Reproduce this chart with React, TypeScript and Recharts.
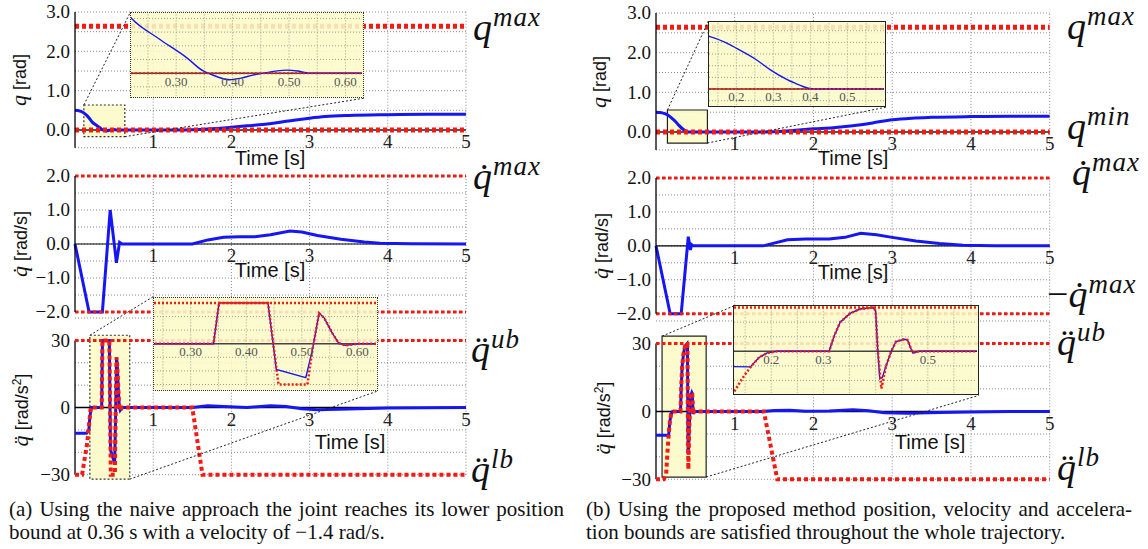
import React from "react";
import {
  CartesianGrid,
  Line,
  LineChart,
  ReferenceArea,
  ReferenceDot,
  ReferenceLine,
  XAxis,
  YAxis,
} from "recharts";

const SERIF = "'Liberation Serif', 'Times New Roman', serif";
const SANS = "'Liberation Sans', Arial, sans-serif";
const BLUE = "#1616f2";
const RED = "#f41a12";
const GRID = "#8a8a8a";
const YELLOW = "rgba(251, 251, 200, 0.88)";

// axes
const TIME_TICKS = [1, 2, 3, 4, 5];
const Q_TICKS = [-0.45, 0, 0.5, 1, 1.5, 2, 2.5, 3];
const Q_LABELS = [0, 1, 2, 3];
const QD_TICKS = [-2, -1.5, -1, -0.5, 0, 0.5, 1, 1.5, 2];
const QD_LABELS = [-2, -1, 0, 1, 2];
const QDD_TICKS = [-30, -20, -10, 0, 10, 20, 30];
const QDD_LABELS = [-30, 0, 30];

// joint bounds
const Q_MAX = 2.64;
const Q_MIN = 0;
const QD_MAX = 2;
const QDD_UB = 30;

// (a) naive approach
const A_Q_T = [0, 0.05, 0.1, 0.15, 0.19, 0.221, 0.27, 0.319, 0.348, 0.357, 0.375, 0.395, 0.415, 0.436, 0.46, 0.495, 0.515, 0.535, 0.6, 1.0, 1.4, 1.6, 1.8, 2.0, 2.2, 2.4, 2.6, 2.8, 3.0, 3.2, 3.5, 4.0, 4.5, 5.0];
const A_Q = [0.5, 0.49, 0.45, 0.37, 0.28, 0.2, 0.125, 0.056, 0.008, 0, -0.015, -0.024, -0.018, -0.007, 0.002, 0.011, 0.008, 0, 0, 0, 0, 0.01, 0.035, 0.07, 0.105, 0.14, 0.19, 0.25, 0.3, 0.34, 0.37, 0.39, 0.4, 0.4];
const A_QD_T = [0, 0.18, 0.35, 0.45, 0.53, 0.57, 0.6, 1.5, 1.7, 1.9, 2.1, 2.3, 2.5, 2.75, 2.9, 3.1, 3.4, 3.7, 3.9, 4.3, 5];
const A_QD = [0, -2, -2, 1.0, -0.55, 0.05, 0, 0, 0.12, 0.2, 0.21, 0.21, 0.27, 0.38, 0.35, 0.25, 0.14, 0.06, 0.02, 0.005, 0];
const A_QDD_T = [0, 0.13, 0.147, 0.177, 0.19, 0.21, 0.341, 0.351, 0.439, 0.454, 0.507, 0.519, 0.531, 0.54, 0.555, 0.566, 0.578, 0.602, 1.5, 1.7, 1.9, 2.2, 2.5, 2.7, 2.9, 3.1, 3.5, 4.0, 5];
const A_QDD = [-11.5, -11.5, -11.5, -10, -4, 0, 0, 30, 30, -19, -25, -4.3, 22.4, 19, 7.6, 0.5, -1.2, 0, 0, 0.8, 0.5, 0, 0.8, 0.5, -0.5, -1, -0.6, -0.2, 0];
const A_LB_T = [0, 0.09, 0.155, 0.19, 0.2, 0.341, 0.351, 0.439, 0.458, 0.51, 0.519, 0.531, 0.54, 0.555, 0.566, 0.578, 0.602, 1.5, 1.63, 5];
const A_LB = [-30, -30, -16, -4, 0, 0, 30, 30, -30, -30, -4.3, 22.4, 19, 7.6, 0.5, -1.2, 0, 0, -30, -30];

// (b) proposed method
const B_Q_T = [0, 0.05, 0.1, 0.129, 0.17, 0.202, 0.25, 0.291, 0.336, 0.36, 0.38, 0.398, 0.43, 0.6, 1.3, 1.5, 1.7, 2.0, 2.25, 2.5, 2.75, 3.0, 3.25, 3.5, 4.0, 4.5, 5.0];
const B_Q = [0.5, 0.49, 0.47, 0.45, 0.4, 0.347, 0.26, 0.167, 0.083, 0.048, 0.022, 0.005, 0, 0, 0, 0.01, 0.035, 0.08, 0.11, 0.16, 0.23, 0.31, 0.35, 0.37, 0.39, 0.4, 0.4];
const B_QD_T = [0, 0.18, 0.32, 0.41, 0.437, 0.45, 0.47, 1.36, 1.5, 1.67, 1.9, 2.2, 2.4, 2.6, 2.8, 3.0, 3.3, 3.6, 3.9, 4.3, 5];
const B_QD = [0, -2, -2, 0.27, -0.12, 0.04, 0, 0, 0.08, 0.18, 0.2, 0.2, 0.25, 0.37, 0.33, 0.25, 0.14, 0.07, 0.02, 0.005, 0];
const B_QDD_T = [0, 0.129, 0.16, 0.176, 0.192, 0.211, 0.311, 0.32, 0.332, 0.351, 0.37, 0.395, 0.4, 0.404, 0.408, 0.413, 0.42, 0.43, 0.439, 0.455, 0.461, 0.471, 0.484, 1.35, 1.5, 1.7, 1.9, 2.2, 2.5, 2.7, 2.9, 3.2, 3.6, 4.0, 4.5, 5];
const B_QDD = [-10.5, -10.5, -10.7, -4.4, -1.1, 0, 0, 10, 20, 26, 29, 30, 27.8, 1, -18.9, -17.8, -10, 0, 6.7, 8.3, 7.8, -1.1, 0, 0, 0.4, 0.5, 0.1, 0.2, 0.7, 0.3, -0.6, -0.8, -0.5, -0.2, 0, 0];
const B_LB_T = [0, 0.1, 0.129, 0.148, 0.16, 0.176, 0.192, 0.211, 0.311, 0.32, 0.332, 0.351, 0.37, 0.395, 0.4, 0.404, 0.411, 0.42, 0.43, 0.439, 0.455, 0.461, 0.471, 0.484, 1.37, 1.54, 5];
const B_LB = [-30, -30, -27.7, -16.7, -11, -4.4, -1.1, 0, 0, 10, 20, 26, 29, 30, 27.8, 1, -25.6, -10, 0, 6.7, 8.3, 7.8, -1.1, 0, 0, -30, -30];

// inset windows (time, value) and their tick labels
const A_QZOOM_T = [0.22, 0.63];
const A_QZOOM_V = [-0.085, 0.22];
const A_QDDZOOM_T = [0.234, 0.634];
const A_QDDZOOM_V = [-33.6, 33.6];
const B_QZOOM_T = [0.126, 0.6];
const B_QZOOM_V = [-0.14, 0.575];
const B_QDDZOOM_T = [0.1286, 0.595];
const B_QDDZOOM_V = [-28.9, 31.1];
const A_ZOOM_LABELS = [0.3, 0.4, 0.5, 0.6];
const B_QZOOM_LABELS = [0.2, 0.3, 0.4, 0.5];
const B_QDDZOOM_LABELS = [0.2, 0.3, 0.5];

const series = (ts: number[], vs: number[]) => ts.map((t, i) => ({ t, v: vs[i] }));
const fmtNum = (v: number, d: number) => (v < 0 ? "\u2212" : "") + Math.abs(v).toFixed(d);
const range = (a: number, b: number, s: number) => {
  const out: number[] = [];
  for (let x = a; x <= b + 1e-9; x += s) out.push(Math.round(x * 1000) / 1000);
  return out;
};

// tick text drawn with a css font so the serif face is surely used
const tickText = (text: string, x: number, y: number, size: number, fill: string, anchor: "end" | "middle", dy: string) => (
  <text x={x} y={y} dy={dy} textAnchor={anchor} fill={fill} style={{ fontFamily: SERIF, fontSize: size }}>
    {text}
  </text>
);
const dotLabel = (text: string, size: number, fill: string, gap: number) => (p: any) => {
  const vb = p.viewBox || {};
  return tickText(text, vb.x + (vb.width || 0) / 2, vb.y + (vb.height || 0) + gap, size, fill, "middle", "0.8em");
};

const AXIS_W = 60;
const MR = 8;
const MB = 14;

interface PlotProps {
  x0: number;
  x1: number;
  yTop: number;
  yBot: number;
  yDomain: [number, number];
  yTicks: number[];
  yLabels: number[];
  digits: number;
  axisTo?: number;
  mt?: number;
  children?: React.ReactNode;
}

function Plot({ x0, x1, yTop, yBot, yDomain, yTicks, yLabels, digits, axisTo, mt = 12, children }: PlotProps) {
  const w = AXIS_W + (x1 - x0) + MR;
  const h = mt + (yBot - yTop) + MB;
  return (
    <div style={{ position: "absolute", left: x0 - AXIS_W, top: yTop - mt }}>
      <LineChart width={w} height={h} margin={{ top: mt, right: MR, bottom: MB, left: 0 }}>
        <XAxis type="number" dataKey="t" domain={[0, 5]} hide />
        <YAxis
          type="number"
          domain={yDomain}
          ticks={yTicks}
          interval={0}
          width={AXIS_W}
          axisLine={axisTo === undefined ? { stroke: "#000", strokeWidth: 1.3 } : false}
          tickLine={false}
          tickSize={0}
          tickMargin={5}
          tick={(p: any) => {
            const v = p.payload?.value;
            return yLabels.includes(v) ? tickText(fmtNum(v, digits), p.x, p.y, 19, "#111", "end", "0.34em") : <g />;
          }}
        />
        <CartesianGrid vertical={false} stroke={GRID} strokeDasharray="1 2" />
        {TIME_TICKS.map((t) => (
          <ReferenceLine key={"g" + t} x={t} stroke={GRID} strokeDasharray="1 2" />
        ))}
        {axisTo !== undefined && (
          <ReferenceLine
            segment={[{ x: 0, y: yDomain[0] }, { x: 0, y: axisTo }]}
            stroke="#000"
            strokeWidth={1.3}
            ifOverflow="visible"
          />
        )}
        {children}
        {TIME_TICKS.map((t) => (
          <ReferenceDot key={"l" + t} x={t} y={0} r={0} fill="none" stroke="none" label={dotLabel(String(t), 19, "#222", 3)} />
        ))}
      </LineChart>
    </div>
  );
}

interface InsetProps {
  left: number;
  top: number;
  w: number;
  h: number;
  tDomain: number[];
  vDomain: number[];
  gridT: number[];
  gridV: number[];
  labels: number[];
  digits: number;
  solid?: boolean;
  children?: React.ReactNode;
}

function Inset({ left, top, w, h, tDomain, vDomain, gridT, gridV, labels, digits, solid, children }: InsetProps) {
  return (
    <div
      style={{
        position: "absolute",
        left,
        top,
        width: w,
        height: h,
        boxSizing: "border-box",
        background: YELLOW,
        border: solid ? "1.3px solid #222" : "1.3px dotted #333",
      }}
    >
      <LineChart width={w - 2.6} height={h - 2.6} margin={{ top: 0, right: 0, bottom: 0, left: 0 }}>
        <XAxis type="number" dataKey="t" domain={tDomain} allowDataOverflow hide />
        <YAxis type="number" domain={vDomain} allowDataOverflow hide width={0} />
        {gridT.map((t) => (
          <ReferenceLine key={"gt" + t} x={t} stroke="#a0a08a" strokeDasharray="1 2" />
        ))}
        {gridV.map((v) => (
          <ReferenceLine key={"gv" + v} y={v} stroke="#a0a08a" strokeDasharray="1 2" />
        ))}
        {labels.map((t) => (
          <ReferenceDot key={"lb" + t} x={t} y={0} r={0} fill="none" stroke="none" label={dotLabel(t.toFixed(digits), 13, "#555", 2)} />
        ))}
        {children}
      </LineChart>
    </div>
  );
}

function MathLabel({ left, top, base, sup, minus }: { left: number; top: number; base: string; sup: string; minus?: boolean }) {
  return (
    <div style={{ position: "absolute", left, top, fontFamily: SERIF, fontSize: 38, lineHeight: 1, whiteSpace: "nowrap", color: "#111" }}>
      {minus && <span style={{ fontStyle: "normal" }}>{"\u2212"}</span>}
      <span style={{ fontStyle: "italic" }}>{base}</span>
      <span style={{ fontStyle: "italic", fontSize: 27, position: "relative", top: -14, marginLeft: 1, letterSpacing: 1 }}>{sup}</span>
    </div>
  );
}

function AxisTitle({ cx, cy, sym, unit }: { cx: number; cy: number; sym: string; unit: React.ReactNode }) {
  return (
    <div
      style={{
        position: "absolute",
        left: cx,
        top: cy,
        transform: "translate(-50%, -50%) rotate(-90deg)",
        whiteSpace: "nowrap",
        fontFamily: SANS,
        fontSize: 18,
        color: "#111",
      }}
    >
      <span style={{ fontFamily: SERIF, fontStyle: "italic", fontSize: 22 }}>{sym}</span> {unit}
    </div>
  );
}

function TimeTitle({ cx, cy }: { cx: number; cy: number }) {
  return (
    <div
      style={{
        position: "absolute",
        left: cx,
        top: cy,
        transform: "translate(-50%, -50%)",
        fontFamily: SANS,
        fontSize: 20,
        lineHeight: "20px",
        whiteSpace: "nowrap",
        color: "#111",
      }}
    >
      Time [s]
    </div>
  );
}

const redDots = (w: number, dash: string) => ({ stroke: RED, strokeWidth: w, strokeDasharray: dash });
const connector = { stroke: "#222", strokeDasharray: "2 2", strokeWidth: 1, ifOverflow: "visible" as const };

function Panel({ side }: { side: "a" | "b" }) {
  const a = side === "a";
  const x0 = a ? 74.5 : 655.6;
  const x1 = a ? 465.5 : 1049.3;
  const q = series(a ? A_Q_T : B_Q_T, a ? A_Q : B_Q);
  const qd = series(a ? A_QD_T : B_QD_T, a ? A_QD : B_QD);
  const qdd = series(a ? A_QDD_T : B_QDD_T, a ? A_QDD : B_QDD);
  const lb = series(a ? A_LB_T : B_LB_T, a ? A_LB : B_LB);

  // zoom windows in the main charts, and where the inset sits (in data units)
  const qBox = a ? { t1: 0.113, t2: 0.637, v1: -0.17, v2: 0.636 } : { t1: 0.145, t2: 0.653, v1: -0.277, v2: 0.555 };
  const qInset = a ? { tl: { x: 0.71, y: 3.0 }, br: { x: 3.7, y: 0.81 } } : { tl: { x: 0.666, y: 2.8 }, br: { x: 2.93, y: 0.63 } };
  const ddBox = a ? { t1: 0.19, t2: 0.7, v1: -32, v2: 32.3 } : { t1: 0.077, t2: 0.637, v1: -29, v2: 33.3 };
  const ddInset = a ? { tl: { x: 1.004, y: 49.6 }, br: { x: 3.88, y: 7.5 } } : { tl: { x: 0.983, y: 46.6 }, br: { x: 4.1, y: 7.1 } };
  const boxStroke = a ? { stroke: "#333", strokeDasharray: "2 2" } : { stroke: "#222" };

  return (
    <>
      <Plot x0={x0} x1={x1} yTop={a ? 12.3 : 13} yBot={a ? 148 : 149.9} yDomain={[-0.45, 3]} yTicks={Q_TICKS} yLabels={Q_LABELS} digits={1}>
        <ReferenceArea x1={qBox.t1} x2={qBox.t2} y1={qBox.v1} y2={qBox.v2} fill="#fbfbc8" fillOpacity={0.9} strokeWidth={1.2} {...boxStroke} ifOverflow="visible" />
        <ReferenceLine y={0} stroke="#555" strokeWidth={2} />
        <Line data={q} dataKey="v" type="monotone" stroke={BLUE} strokeWidth={3} dot={false} isAnimationActive={false} />
        <ReferenceLine y={Q_MAX} {...redDots(5, "4 3")} />
        <ReferenceLine y={Q_MIN} {...redDots(5, "4 3")} />
        <ReferenceLine segment={[{ x: qBox.t1, y: qBox.v2 }, qInset.tl]} {...connector} />
        <ReferenceLine segment={[{ x: qBox.t2, y: qBox.v1 }, qInset.br]} {...connector} />
      </Plot>
      <Plot x0={x0} x1={x1} yTop={a ? 175.7 : 178.3} yBot={a ? 311.7 : 314} yDomain={[-2, 2]} yTicks={QD_TICKS} yLabels={QD_LABELS} digits={1}>
        <ReferenceLine y={0} stroke="#000" strokeWidth={1.2} />
        <Line data={qd} dataKey="v" type="linear" stroke={BLUE} strokeWidth={3} dot={false} isAnimationActive={false} />
        <ReferenceLine y={QD_MAX} {...redDots(3, "3.5 2.5")} />
        <ReferenceLine y={-QD_MAX} {...redDots(3, "3.5 2.5")} />
      </Plot>
      <Plot
        x0={x0}
        x1={x1}
        yTop={a ? 318.3 : 320.7}
        yBot={a ? 475 : 479}
        yDomain={[-30, 40]}
        yTicks={QDD_TICKS}
        yLabels={QDD_LABELS}
        digits={0}
        axisTo={30}
        mt={32}
      >
        <ReferenceArea x1={ddBox.t1} x2={ddBox.t2} y1={ddBox.v1} y2={ddBox.v2} fill="#fbfbc8" fillOpacity={0.9} strokeWidth={1.2} {...boxStroke} ifOverflow="visible" />
        <ReferenceLine y={0} stroke="#000" strokeWidth={1.5} />
        <Line data={qdd} dataKey="v" type="linear" stroke={BLUE} strokeWidth={3} dot={false} isAnimationActive={false} />
        <ReferenceLine y={QDD_UB} {...redDots(3, "3.5 2.5")} />
        <Line data={lb} dataKey="v" type="linear" stroke={RED} strokeWidth={4} strokeDasharray="4 3" dot={false} isAnimationActive={false} />
        <ReferenceLine segment={[{ x: ddBox.t1, y: ddBox.v2 }, ddInset.tl]} {...connector} />
        <ReferenceLine segment={[{ x: ddBox.t2, y: ddBox.v1 }, ddInset.br]} {...connector} />
      </Plot>

      {a ? (
        <Inset left={130} top={12} w={234} h={86} tDomain={A_QZOOM_T} vDomain={A_QZOOM_V} gridT={range(0.25, 0.6, 0.05)} gridV={range(-0.05, 0.2, 0.05)} labels={A_ZOOM_LABELS} digits={2}>
          <ReferenceLine y={0} stroke="#444" strokeWidth={1.5} />
          <Line data={q} dataKey="v" type="monotone" stroke={BLUE} strokeWidth={1.4} dot={false} isAnimationActive={false} />
          <ReferenceLine y={Q_MIN} {...redDots(2, "2 2")} />
        </Inset>
      ) : (
        <Inset left={708} top={21} w={178} h={86} solid tDomain={B_QZOOM_T} vDomain={B_QZOOM_V} gridT={range(0.15, 0.55, 0.05)} gridV={range(-0.1, 0.5, 0.1)} labels={B_QZOOM_LABELS} digits={1}>
          <ReferenceLine y={0} stroke="#444" strokeWidth={1.5} />
          <Line data={q} dataKey="v" type="monotone" stroke={BLUE} strokeWidth={1.4} dot={false} isAnimationActive={false} />
          <ReferenceLine y={Q_MIN} {...redDots(2, "2 2")} />
        </Inset>
      )}
      {a ? (
        <Inset left={153} top={297} w={225} h={94} tDomain={A_QDDZOOM_T} vDomain={A_QDDZOOM_V} gridT={range(0.25, 0.6, 0.05)} gridV={[-30, -20, -10, 10, 20]} labels={A_ZOOM_LABELS} digits={2}>
          <ReferenceLine y={0} stroke="#444" strokeWidth={1.5} />
          <Line data={qdd} dataKey="v" type="linear" stroke={BLUE} strokeWidth={1.4} dot={false} isAnimationActive={false} />
          <ReferenceLine y={QDD_UB} {...redDots(2.5, "2 2")} />
          <Line data={lb} dataKey="v" type="linear" stroke={RED} strokeWidth={2.5} strokeDasharray="2 2" dot={false} isAnimationActive={false} />
        </Inset>
      ) : (
        <Inset left={733} top={305} w={246} h={90} solid tDomain={B_QDDZOOM_T} vDomain={B_QDDZOOM_V} gridT={range(0.15, 0.55, 0.05)} gridV={[-20, -10, 10, 20]} labels={B_QDDZOOM_LABELS} digits={1}>
          <ReferenceLine y={0} stroke="#444" strokeWidth={1.5} />
          <Line data={qdd} dataKey="v" type="linear" stroke={BLUE} strokeWidth={1.4} dot={false} isAnimationActive={false} />
          <ReferenceLine y={QDD_UB} {...redDots(2.5, "2 2")} />
          <Line data={lb} dataKey="v" type="linear" stroke={RED} strokeWidth={2.5} strokeDasharray="2 2" dot={false} isAnimationActive={false} />
        </Inset>
      )}
    </>
  );
}

function Caption({ left, width, top, first, second }: { left: number; width: number; top: number; first: string; second: string }) {
  const line = { fontFamily: SERIF, fontSize: 21, lineHeight: "23px", color: "#111", whiteSpace: "nowrap" as const };
  return (
    <div style={{ position: "absolute", left, top, width }}>
      <div style={{ ...line, textAlign: "justify", textAlignLast: "justify" }}>{first}</div>
      <div style={line}>{second}</div>
    </div>
  );
}

export default function App() {
  return (
    <div style={{ position: "absolute", left: 0, top: 0, width: 1148, height: 549, background: "#fff", overflow: "hidden" }}>
      <Panel side="a" />
      <Panel side="b" />

      <AxisTitle cx={19} cy={80} sym="q" unit="[rad]" />
      <AxisTitle cx={20} cy={244} sym={"q\u0307"} unit="[rad/s]" />
      <AxisTitle cx={21} cy={410} sym={"q\u0308"} unit={<span>[rad/s<sup style={{ fontSize: 12 }}>2</sup>]</span>} />
      <AxisTitle cx={599} cy={82} sym="q" unit="[rad]" />
      <AxisTitle cx={601} cy={246} sym={"q\u0307"} unit="[rad/s]" />
      <AxisTitle cx={603} cy={418} sym={"q\u0308"} unit={<span>[rad/s<sup style={{ fontSize: 12 }}>2</sup>]</span>} />

      <TimeTitle cx={270} cy={158} />
      <TimeTitle cx={270} cy={270} />
      <TimeTitle cx={350} cy={442} />
      <TimeTitle cx={853} cy={158} />
      <TimeTitle cx={853} cy={272} />
      <TimeTitle cx={930} cy={442} />

      <MathLabel left={473} top={8} base="q" sup="max" />
      <MathLabel left={473} top={157} base={"q\u0307"} sup="max" />
      <MathLabel left={471} top={330} base={"q\u0308"} sup="ub" />
      <MathLabel left={471} top={450} base={"q\u0308"} sup="lb" />
      <MathLabel left={1067} top={7} base="q" sup="max" />
      <MathLabel left={1067} top={107} base="q" sup="min" />
      <MathLabel left={1072} top={153} base={"q\u0307"} sup="max" />
      <MathLabel left={1047} top={275} base={"q\u0307"} sup="max" minus />
      <MathLabel left={1057} top={323} base={"q\u0308"} sup="ub" />
      <MathLabel left={1057} top={448} base={"q\u0308"} sup="lb" />

      <Caption
        left={9}
        width={555}
        top={498}
        first="(a) Using the naive approach the joint reaches its lower position"
        second={"bound at 0.36 s with a velocity of \u22121.4 rad/s."}
      />
      <Caption
        left={586}
        width={546}
        top={498}
        first="(b) Using the proposed method position, velocity and accelera-"
        second="tion bounds are satisfied throughout the whole trajectory."
      />
    </div>
  );
}
